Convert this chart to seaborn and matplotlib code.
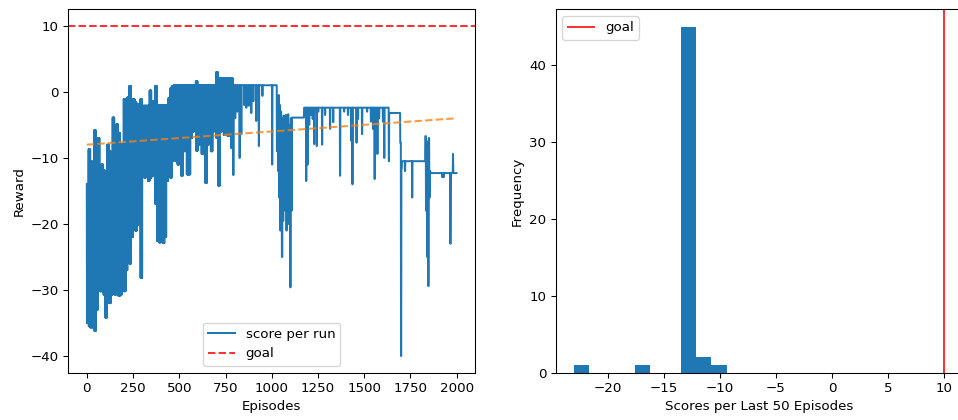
import numpy as np
import matplotlib
matplotlib.use("Agg")
import matplotlib.pyplot as plt
import seaborn as sns

n_episodes = 2000
goal = 10

# Episodes 0-789: highest and lowest reward within each block of 10 episodes
block_high = [-14.0, -8.7, -10.5, -11.0, -5.8, -10.5, -7.0, -11.7, -11.0, -11.9,
              -12.7, -8.0, -9.0, -9.2, -3.9, -5.2, -4.9, -6.2, -10.4, -7.9,
              -1.1, -1.9, -0.8, 0.9, -1.9, -1.1, -1.6, -1.9, -1.9, -1.1,
              -2.1, -2.1, -2.1, -2.1, 0.2, -1.4, -2.1, 0.9, -2.0, -2.0,
              -2.0, -2.0, -2.0, -2.0, -1.0, 0.5, 0.9, 1.0, 1.0, 1.0,
              1.0, 1.0, 1.0, 1.0, 1.0, 1.0, 1.0, 1.0, 1.0, 1.6,
              1.0, 1.0, 1.0, 1.0, 1.0, 1.0, 1.0, 1.0, 1.0, 1.0,
              3.0, 2.1, 2.1, 2.1, 2.1, 2.1, 2.1, 2.1, 2.1]
block_low = [-35.0, -35.5, -35.7, -35.2, -36.2, -33.0, -30.0, -30.2, -30.2, -30.7,
             -34.2, -29.7, -32.0, -30.7, -30.0, -30.7, -30.0, -30.9, -30.7, -30.0,
             -30.2, -27.0, -24.0, -26.0, -22.0, -18.1, -21.0, -20.1, -13.0, -28.2,
             -12.5, -13.0, -12.7, -13.5, -13.0, -12.7, -12.5, -17.0, -22.6, -22.8,
             -22.5, -22.9, -22.0, -13.5, -12.7, -13.0, -10.5, -10.1, -10.5, -11.0,
             -10.5, -12.7, -9.0, -8.0, -12.5, -12.5, -7.0, -6.0, -5.5, -8.9,
             -7.0, -8.0, -9.4, -9.4, -13.8, -8.0, -6.0, -9.0, -6.0, -5.0,
             -7.0, -14.2, -6.0, -5.0, -6.5, -4.0, -6.7, -5.0, -8.5]

# Episodes 790-1999: episode at which the reward changes, and the new reward
change_episode = [790, 792, 794, 802, 804, 813, 815, 826, 828, 835, 837, 851, 853,
                  862, 864, 875, 877, 889, 891, 900, 902, 916, 918, 930, 932, 949,
                  951, 1002, 1004,
                  1028, 1031, 1034, 1037, 1040, 1043, 1046, 1049, 1052, 1055, 1058,
                  1061, 1064, 1067, 1070, 1073, 1076, 1079, 1082, 1085, 1088, 1091,
                  1094, 1097, 1100, 1103, 1106,
                  1109, 1175, 1186, 1188, 1190, 1192, 1194, 1196, 1202, 1204, 1213,
                  1215, 1221, 1223, 1229, 1231, 1243, 1245, 1251, 1253, 1272, 1274,
                  1288, 1290, 1315, 1317, 1332, 1334, 1369, 1371, 1391, 1393, 1412,
                  1414, 1429, 1431, 1436, 1438, 1458, 1460, 1466, 1468, 1488, 1490,
                  1515, 1517, 1536, 1538, 1547, 1549, 1556, 1558, 1571, 1573, 1580,
                  1582, 1601, 1603, 1608, 1610, 1633, 1635, 1695, 1699, 1701, 1704,
                  1720, 1722, 1759, 1761, 1831, 1834, 1837, 1840, 1843, 1846, 1849,
                  1852, 1855, 1858, 1921, 1923, 1930, 1932, 1966, 1967, 1968, 1979,
                  1980, 1981, 1982]
change_reward = [1.0, -12.6, 1.0, -4.0, 1.0, -3.0, 1.0, -10.0, 1.0, -6.4, 1.0, -2.0, 1.0,
                 -2.4, 1.0, -2.1, 1.0, -3.2, 1.0, -1.4, 1.0, -4.4, 1.0, -8.2, 1.0, -0.6,
                 1.0, -11.0, 1.0,
                 -9.0, -1.5, -12.0, -0.5, -16.0, -2.0, -21.0, -3.0, -14.0, -25.0, -4.0,
                 -19.5, -3.6, -12.0, -4.0, -18.0, -3.5, -21.0, -4.0, -15.0, -3.4, -20.0,
                 -5.0, -12.0, -29.6, -4.0, -18.0,
                 -3.9, -2.4, -13.5, -2.4, -6.0, -2.4, -11.0, -2.4, -5.0, -2.4, -3.5,
                 -2.4, -4.1, -2.4, -7.9, -2.4, -8.2, -2.4, -3.0, -2.4, -8.0, -2.4,
                 -3.5, -2.4, -5.6, -2.4, -4.6, -2.4, -12.7, -2.4, -3.0, -2.4, -3.5,
                 -2.4, -7.4, -2.4, -14.0, -2.4, -7.7, -2.4, -4.1, -2.4, -6.4, -2.4,
                 -3.0, -2.4, -4.5, -2.4, -5.6, -2.4, -13.2, -2.4, -9.4, -2.4, -4.0,
                 -2.4, -4.5, -2.4, -10.0, -2.4, -10.5, -3.2, -7.7, -40.0, -11.5, -10.5,
                 -12.0, -10.5, -16.0, -10.5, -6.7, -18.0, -7.5, -25.0, -8.0, -29.4, -7.0,
                 -16.0, -12.0, -12.3, -12.9, -12.3, -12.9, -12.3, -23.0, -17.0, -12.3, -11.6,
                 -9.4, -11.4, -12.3]

# Linear trend of the reward at the first and the last episode
trend_start, trend_end = -8.0, -4.0

# Build the per-episode reward series
early = []
for hi, lo in zip(block_high, block_low):
    early.extend([hi, lo] * 5)
runs = np.diff(change_episode + [n_episodes])
late = np.repeat(change_reward, runs)
scores = np.concatenate([early, late])
episodes = np.arange(len(scores))
last50 = scores[-50:]

W, H, DPI = 958, 420, 96
fig = plt.figure(figsize=(W / DPI, H / DPI), dpi=DPI)
ax1 = fig.add_axes([68.3 / W, (H - 372.5) / H, 406.7 / W, 363.2 / H])
ax2 = fig.add_axes([555.7 / W, (H - 372.5) / H, 406.7 / W, 363.2 / H])

# Left: reward per episode
sns.lineplot(x=episodes, y=scores, ax=ax1, color="#1f77b4", linewidth=1.5,
             label="score per run", errorbar=None)
ax1.axhline(goal, color="red", linestyle="--", alpha=0.8, linewidth=1.5, label="goal")
sns.lineplot(x=[episodes[0], episodes[-1]], y=[trend_start, trend_end], ax=ax1,
             color="#ff7f0e", linestyle="--", alpha=0.8, linewidth=1.5, legend=False)
ax1.legend(loc="lower center")
ax1.set_xlabel("Episodes")
ax1.set_ylabel("Reward")

# Right: distribution of the last 50 scores
sns.histplot(x=last50, bins=10, ax=ax2, color="#1f77b4", alpha=1.0, linewidth=0)
ax2.axvline(goal, color="red", alpha=0.8, linewidth=1.5, label="goal")
ax2.legend(loc="upper left")
ax2.set_xlabel("Scores per Last 50 Episodes")
ax2.set_ylabel("Frequency")

fig.savefig("out.png", dpi=DPI)
